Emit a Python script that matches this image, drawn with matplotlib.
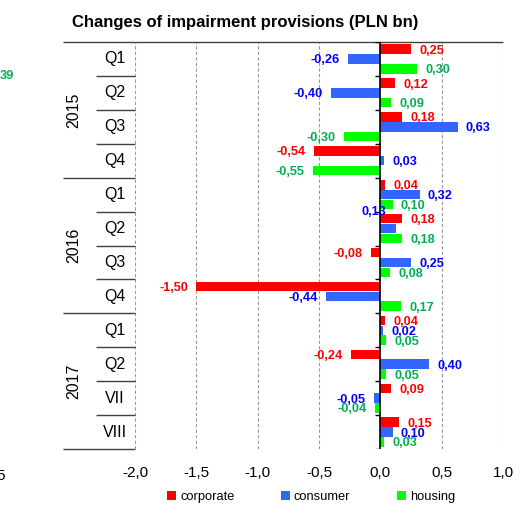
import matplotlib
matplotlib.use('Agg')
import matplotlib.pyplot as plt
from matplotlib.transforms import blended_transform_factory
from matplotlib.patches import Patch

plt.rcParams['font.family'] = ['Liberation Sans', 'DejaVu Sans']

years = ['2015', '2016', '2017']
periods = ['Q1', 'Q2', 'Q3', 'Q4', 'Q1', 'Q2', 'Q3', 'Q4', 'Q1', 'Q2', 'VII', 'VIII']
year_sizes = [4, 4, 4]
series = ['corporate', 'consumer', 'housing']
corporate = [0.25, 0.12, 0.18, -0.54, 0.04, 0.18, -0.08, -1.50, 0.04, -0.24, 0.09, 0.15]
consumer = [-0.26, -0.40, 0.63, 0.03, 0.32, 0.13, 0.25, -0.44, 0.02, 0.40, -0.05, 0.10]
housing = [0.30, 0.09, -0.30, -0.55, 0.10, 0.18, 0.08, 0.17, 0.05, 0.05, -0.04, 0.03]
xticks = [-2.0, -1.5, -1.0, -0.5, 0.0, 0.5, 1.0]

bar_colors = ['#FF0000', '#3366FF', '#00FF00']
text_colors = ['#FF0000', '#0000FF', '#00B050']

fig = plt.figure(figsize=(5.17, 5.09), dpi=100)
W, H = 517, 509
ax = fig.add_axes([135 / W, 1 - 449 / H, 368 / W, 407 / H])

n = len(periods)
h = 0.29
for k, (vals, bc, tc) in enumerate(zip([corporate, consumer, housing], bar_colors, text_colors)):
    ys = [i + (k - 1) * h for i in range(n)]
    ax.barh(ys, vals, height=h * 0.97, color=bc, zorder=3)
    for i, (y, v) in enumerate(zip(ys, vals)):
        lab = f'{v:.2f}'.replace('.', ',')
        if k == 1 and i == 5:
            # label pushed up-left like in the source chart
            ax.annotate(lab, (v, y), xytext=(-7, 13), textcoords='offset points',
                        ha='right', va='center_baseline', color=tc, fontsize=9.2,
                        fontweight='bold', zorder=5)
            continue
        off = 6 if v >= 0 else -6
        ax.annotate(lab, (v, y), xytext=(off, 0), textcoords='offset points',
                    ha='left' if v >= 0 else 'right', va='center_baseline',
                    color=tc, fontsize=9.2, fontweight='bold', zorder=5)

ax.set_xlim(-2.0, 1.0)
ax.set_ylim(n - 0.5, -0.5)

for x in xticks:
    if x != 0:
        ax.axvline(x, color='#9a9a9a', lw=0.8, ls=(0, (3, 2)), zorder=1)
ax.axvline(0, color='black', lw=1.2, zorder=4)
ax.hlines([b - 0.5 for b in range(n + 1)], -0.04, 0, color='black', lw=1, zorder=4)

for s in ['left', 'right', 'bottom', 'top']:
    ax.spines[s].set_visible(False)

ax.set_yticks([])
ax.set_xticks(xticks, [f'{x:.1f}'.replace('.', ',') for x in xticks])
ax.tick_params(axis='x', length=0, pad=12, labelsize=11)

# two-level category axis on the left
tr = blended_transform_factory(ax.transAxes, ax.transData)
short_x = (96 - 135) / 368
long_x = (63 - 135) / 368
year_edges = [-0.5]
for s in year_sizes:
    year_edges.append(year_edges[-1] + s)
inner = [b - 0.5 for b in range(1, n) if (b - 0.5) not in year_edges]
ax.hlines(inner, short_x, 0, transform=tr, color='#404040', lw=1, clip_on=False)
ax.hlines(year_edges, long_x, 0, transform=tr, color='#404040', lw=1, clip_on=False)
ax.hlines([-0.5], 0, 1, transform=tr, color='#404040', lw=1, clip_on=False)
for i, p in enumerate(periods):
    ax.text((115 - 135) / 368, i, p, transform=tr, ha='center', va='center', fontsize=11.5)
for j, yr in enumerate(years):
    mid = (year_edges[j] + year_edges[j + 1]) / 2
    ax.text((74 - 135) / 368, mid, yr, transform=tr, ha='center', va='center',
            rotation=90, fontsize=11.5)

fig.text(245 / W, 1 - 22 / H, 'Changes of impairment provisions (PLN bn)',
         ha='center', va='center', fontsize=12, fontweight='bold')

handles = [Patch(facecolor=c, edgecolor='none') for c in bar_colors]
fig.legend(handles, series, loc='center', bbox_to_anchor=(311 / W, 1 - 497 / H),
           ncol=3, frameon=False, fontsize=9.3, handlelength=0.7, handleheight=0.7,
           handletextpad=0.3, columnspacing=3.6)

# fragments of the neighbouring chart visible at the left edge
fig.text(0, 1 - 76 / H, '39', color='#00B050', fontsize=9.2, fontweight='bold', va='center')
fig.text(5 / W, 1 - 476 / H, '5', fontsize=11, ha='right', va='center')

fig.savefig('out.png', dpi=100)
